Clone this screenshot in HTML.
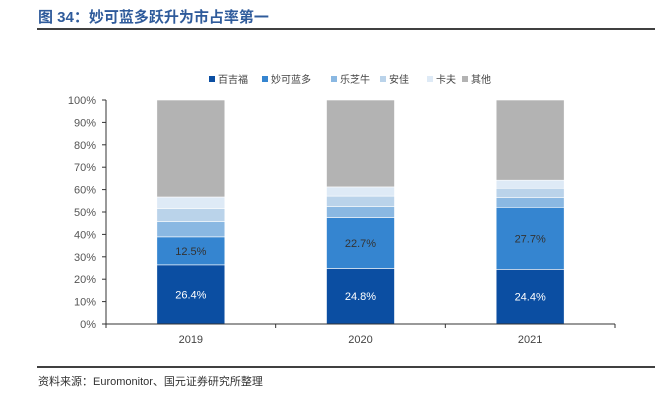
<!DOCTYPE html>
<html><head><meta charset="utf-8"><style>
body{margin:0;background:#fff;width:671px;height:408px;overflow:hidden;font-family:"Liberation Sans","Noto Sans CJK SC",sans-serif}
</style></head><body>
<svg width="671" height="408" xmlns="http://www.w3.org/2000/svg">
<text x="38" y="22" font-size="15" font-weight="bold" fill="#2f5b9b" font-family="Liberation Sans,Noto Sans CJK SC,sans-serif">图 34：妙可蓝多跃升为市占率第一</text>
<line x1="37" y1="29" x2="655" y2="29" stroke="#000" stroke-width="1.5"/>
<g id="legend"></g>
<g id="plot"></g>
<line x1="37" y1="367" x2="655" y2="367" stroke="#000" stroke-width="1.5"/>
<text x="38" y="385" font-size="11" fill="#333" font-family="Liberation Sans,Noto Sans CJK SC,sans-serif">资料来源：Euromonitor、国元证券研究所整理</text>
</svg>
<script>
const categories=["2019","2020","2021"];
const seriesNames=["百吉福","妙可蓝多","乐芝牛","安佳","卡夫","其他"];
const baijifu=[26.4,24.8,24.4];
const miaoke=[12.5,22.7,27.7];
const lezhiniu=[6.8,4.9,4.3];
const anjia=[5.9,4.7,4.2];
const kafu=[5.1,4.1,3.6];
const others=[43.3,38.8,35.8];
const yTicks=[0,10,20,30,40,50,60,70,80,90,100];
const labelShown=[true,true,false,false,false,false];
const colors=["#0b4ea2","#3585d0","#8ab8e2","#bad3ea","#deeaf6","#b3b3b3"];
const ns="http://www.w3.org/2000/svg";
const plot=document.getElementById('plot'),legend=document.getElementById('legend');
const X0=106,X1=615,Y0=324,Y1=100,BW=68;
const y=v=>Y0-(v/100)*(Y0-Y1);
const xc=i=>X0+(X1-X0)/categories.length*(i+0.5);
function mk(tag,a,p){const e=document.createElementNS(ns,tag);for(const k in a)e.setAttribute(k,a[k]);p.appendChild(e);return e;}
const series=[baijifu,miaoke,lezhiniu,anjia,kafu,others];
yTicks.forEach(t=>{
 const tx=mk('text',{x:96,y:y(t)+4,'font-size':11,fill:'#555','text-anchor':'end'},plot);
 
 
 tx.textContent=t+'%';
 const tk=mk('line',{x1:X0-4,x2:X0,y1:y(t),y2:y(t),stroke:'#333'},plot);
 
 
});
categories.forEach((c,i)=>{
 let cum=0;
 series.forEach((s,k)=>{
  const v=s[i];
  const r=mk('rect',{x:xc(i)-BW/2,y:y(cum+v),width:BW,height:y(cum)-y(cum+v),fill:colors[k],stroke:'#fff','stroke-width':0.6},plot);
  
  
  if(labelShown[k]){
   const t=mk('text',{x:xc(i),y:(y(cum)+y(cum+v))/2+4,'font-size':11,fill:k==0?'#fff':'#333','text-anchor':'middle'},plot);
   
   
   t.textContent=v.toFixed(1)+'%';
  }
  cum+=v;
 });
 const xl=mk('text',{x:xc(i),y:343,'font-size':11,fill:'#444','text-anchor':'middle'},plot);
 
 
 xl.textContent=c;
});
for(let i=0;i<=categories.length;i++){
 const x=X0+(X1-X0)/categories.length*i;
 const tk=mk('line',{x1:x,x2:x,y1:Y0,y2:Y0+4,stroke:'#333'},plot);
 
 
}
const ax=mk('line',{x1:X0,x2:X0,y1:Y1,y2:Y0,stroke:'#333'},plot);


const axx=mk('line',{x1:X0,x2:X1,y1:Y0,y2:Y0,stroke:'#333'},plot);


const lx=[209,262,331,380,427,462];
seriesNames.forEach((n,k)=>{
 const g=mk('g',{},legend);
 
 
 mk('rect',{x:lx[k],y:76,width:6,height:6,fill:colors[k]},g);
 const t=mk('text',{x:lx[k]+9,y:83,'font-size':10,fill:'#444'},g);
 t.textContent=n;
});
</script>
</body></html>
